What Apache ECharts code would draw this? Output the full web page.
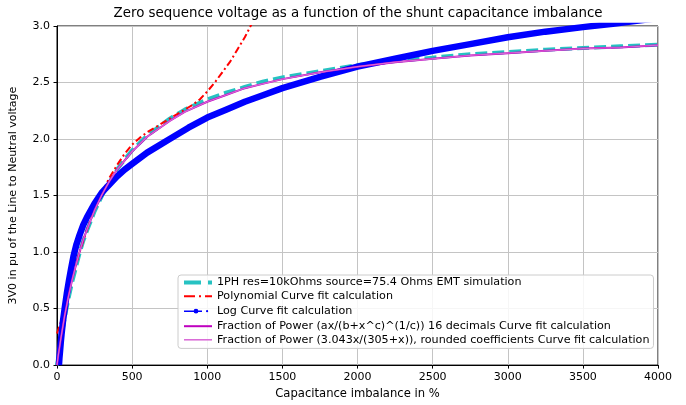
<!DOCTYPE html>
<html>
<head>
<meta charset="utf-8">
<script src="https://cdn.jsdelivr.net/npm/echarts@6/dist/echarts.min.js"></script>
<style>
  html, body { margin: 0; padding: 0; background: #fff; }
  #chart { width: 686px; height: 405px; }
</style>
</head>
<body>
<div id="chart"></div>
<script>
// x positions (capacitance imbalance, %)
var fitX = [0, 5, 10, 15, 25, 35, 50, 75, 100, 125, 150, 175, 200, 250, 300, 350, 400, 450, 500, 600, 750, 850, 1000, 1125, 1250, 1375, 1500, 1750, 2000, 2250, 2500, 2750, 3000, 3250, 3500, 3750, 4000];
// EMT simulation (dashed cyan)
var emtY = [0, 0.04, 0.08, 0.12, 0.21, 0.29, 0.41, 0.58, 0.73, 0.86, 0.99, 1.1, 1.19, 1.36, 1.5, 1.62, 1.73, 1.82, 1.9, 2.03, 2.18, 2.26, 2.35, 2.41, 2.46, 2.51, 2.545, 2.6, 2.655, 2.69, 2.72, 2.75, 2.77, 2.79, 2.805, 2.82, 2.835];
// fraction of power, 16 decimals
var powY = [0, 0.05, 0.1, 0.14, 0.23, 0.31, 0.43, 0.6, 0.75, 0.88, 1.0, 1.11, 1.2, 1.37, 1.51, 1.63, 1.73, 1.81, 1.89, 2.02, 2.16, 2.24, 2.33, 2.39, 2.45, 2.49, 2.53, 2.59, 2.64, 2.68, 2.71, 2.74, 2.76, 2.78, 2.8, 2.81, 2.83];
// fraction of power, rounded coefficients
var powRoundY = [0, 0.05, 0.1, 0.14, 0.23, 0.31, 0.43, 0.6, 0.75, 0.88, 1.0, 1.11, 1.2, 1.37, 1.51, 1.63, 1.73, 1.81, 1.89, 2.02, 2.16, 2.24, 2.33, 2.39, 2.45, 2.49, 2.53, 2.59, 2.64, 2.68, 2.71, 2.74, 2.76, 2.78, 2.8, 2.81, 2.83];

// polynomial fit
var polyX = [0, 10, 25, 50, 75, 100, 150, 200, 250, 300, 350, 400, 450, 500, 550, 600, 650, 700, 750, 800, 850, 900, 950, 1000, 1050, 1100, 1150, 1200, 1250, 1300, 1350];
var polyY = [0.28, 0.32, 0.38, 0.5, 0.64, 0.77, 1.0, 1.2, 1.38, 1.53, 1.66, 1.77, 1.87, 1.95, 2.01, 2.06, 2.1, 2.14, 2.18, 2.22, 2.26, 2.3, 2.35, 2.42, 2.5, 2.59, 2.68, 2.79, 2.9, 3.03, 3.16];

// log fit
var logX = [13, 16, 20, 25, 30, 40, 51, 65, 80, 95, 111, 130, 150, 175, 200, 250, 301, 350, 400, 450, 500, 600, 750, 875, 1000, 1125, 1250, 1375, 1500, 1750, 2000, 2250, 2500, 2750, 3000, 3250, 3500, 3700, 4000];
var logY = [0, 0.06, 0.12, 0.2, 0.27, 0.39, 0.5, 0.63, 0.75, 0.86, 0.97, 1.07, 1.15, 1.24, 1.31, 1.43, 1.53, 1.6, 1.67, 1.73, 1.78, 1.88, 2.0, 2.1, 2.19, 2.26, 2.33, 2.39, 2.45, 2.55, 2.64, 2.71, 2.78, 2.84, 2.9, 2.95, 2.99, 3.02, 3.07];

var names = [
  "1PH res=10kOhms source=75.4 Ohms EMT simulation",
  "Polynomial Curve fit calculation",
  "Log Curve fit calculation",
  "Fraction of Power (ax/(b+x^c)^(1/c)) 16 decimals Curve fit calculation",
  "Fraction of Power (3.043x/(305+x)), rounded coefficients Curve fit calculation"
];

function pairs(xs, ys) {
  return xs.map(function (x, i) { return [x, ys[i]]; });
}

var font = "DejaVu Sans";
var chart = echarts.init(document.getElementById("chart"));
var noDot = { color: "rgba(0,0,0,0)", borderWidth: 0 };
// legend handle for the log fit: line, marker, trailing dot (28x14 box)
var logIcon = "path://M0,0 L0.01,0 L0,0.01 Z M28,14 L27.99,14 L28,13.99 Z " +
  "M0,6.2 L10,6.2 L10,7.8 L0,7.8 Z " +
  "M14,6.2 L18,6.2 L18,7.8 L14,7.8 Z " +
  "M9.6,7 A2.4,2.4 0 1,1 14.4,7 A2.4,2.4 0 1,1 9.6,7 Z " +
  "M22,7 A1.1,1.1 0 1,1 24.2,7 A1.1,1.1 0 1,1 22,7 Z";

chart.setOption({
  animation: false,
  backgroundColor: "#fff",
  textStyle: { fontFamily: font },
  title: {
    text: "Zero sequence voltage as a function of the shunt capacitance imbalance",
    left: 358,
    textAlign: "center",
    top: 7,
    padding: 0,
    textStyle: { fontFamily: font, fontSize: 13.4, fontWeight: "normal", color: "#000" }
  },
  grid: {
    left: 56, right: 28, top: 26, bottom: 39,
    show: true, borderColor: "#000", borderWidth: 1, backgroundColor: "#fff"
  },
  legend: {
    orient: "vertical",
    left: 178,
    top: 275,
    padding: [2, 4, 3, 4],
    itemWidth: 28,
    itemHeight: 14,
    itemGap: 2.4,
    backgroundColor: "rgba(255,255,255,0.85)",
    borderColor: "#cccccc",
    borderWidth: 1,
    borderRadius: 3,
    textStyle: { fontFamily: font, fontSize: 11.15, color: "#000" },
    data: [
      { name: names[0], itemStyle: noDot, lineStyle: { width: 4, type: [17, 7] } },
      { name: names[1], itemStyle: noDot, lineStyle: { width: 2, type: [11, 4, 2, 4] } },
      { name: names[2], icon: logIcon, itemStyle: { color: "#0000ff", borderWidth: 0 } },
      { name: names[3], itemStyle: noDot, lineStyle: { width: 2 } },
      { name: names[4], itemStyle: noDot, lineStyle: { width: 1.5 } }
    ]
  },
  xAxis: {
    type: "value",
    min: 0, max: 4000, interval: 500,
    name: "Capacitance imbalance in %",
    nameLocation: "middle",
    nameGap: 22,
    nameTextStyle: { fontFamily: font, fontSize: 11.6, color: "#000" },
    axisLine: { show: true, lineStyle: { color: "#000", width: 1 } },
    axisTick: { show: true, length: 3.5, lineStyle: { color: "#000", width: 1 } },
    axisLabel: {
      margin: 7, fontFamily: font, fontSize: 11, color: "#000",
      formatter: function (v) { return String(v); }
    },
    splitLine: { show: true, lineStyle: { color: "#c4c4c4", width: 1 } }
  },
  yAxis: {
    type: "value",
    min: 0, max: 3, interval: 0.5,
    name: "3V0 in pu of the Line to Neutral voltage",
    nameLocation: "middle",
    nameGap: 38,
    nameTextStyle: { fontFamily: font, fontSize: 11, color: "#000" },
    axisLine: { show: true, lineStyle: { color: "#000", width: 1 } },
    axisTick: { show: true, length: 3.5, lineStyle: { color: "#000", width: 1 } },
    axisLabel: {
      margin: 7, fontFamily: font, fontSize: 11, color: "#000",
      formatter: function (v) { return v.toFixed(1); }
    },
    splitLine: { show: true, lineStyle: { color: "#c4c4c4", width: 1 } }
  },
  series: [
    {
      name: names[0], type: "line", data: pairs(fitX, emtY),
      showSymbol: false, symbol: "none", clip: true,
      color: "#26c2c2",
      lineStyle: { color: "#26c2c2", width: 4, type: [12, 5] }
    },
    {
      name: names[1], type: "line", data: pairs(polyX, polyY),
      showSymbol: false, symbol: "none", clip: true,
      color: "#ff0000",
      lineStyle: { color: "#ff0000", width: 2, type: [7, 3, 2, 3] }
    },
    {
      name: names[2], type: "line", data: pairs(logX, logY),
      showSymbol: false, symbol: "none", clip: true,
      color: "#0000ff",
      lineStyle: { color: "#0000ff", width: 6.5 }
    },
    {
      name: names[3], type: "line", data: pairs(fitX, powY),
      showSymbol: false, symbol: "none", clip: true,
      color: "#bf00bf",
      lineStyle: { color: "#bf00bf", width: 2 }
    },
    {
      name: names[4], type: "line", data: pairs(fitX, powRoundY),
      showSymbol: false, symbol: "none", clip: true,
      color: "#d966d6",
      lineStyle: { color: "#d966d6", width: 1.2 }
    }
  ]
});
</script>
</body>
</html>
